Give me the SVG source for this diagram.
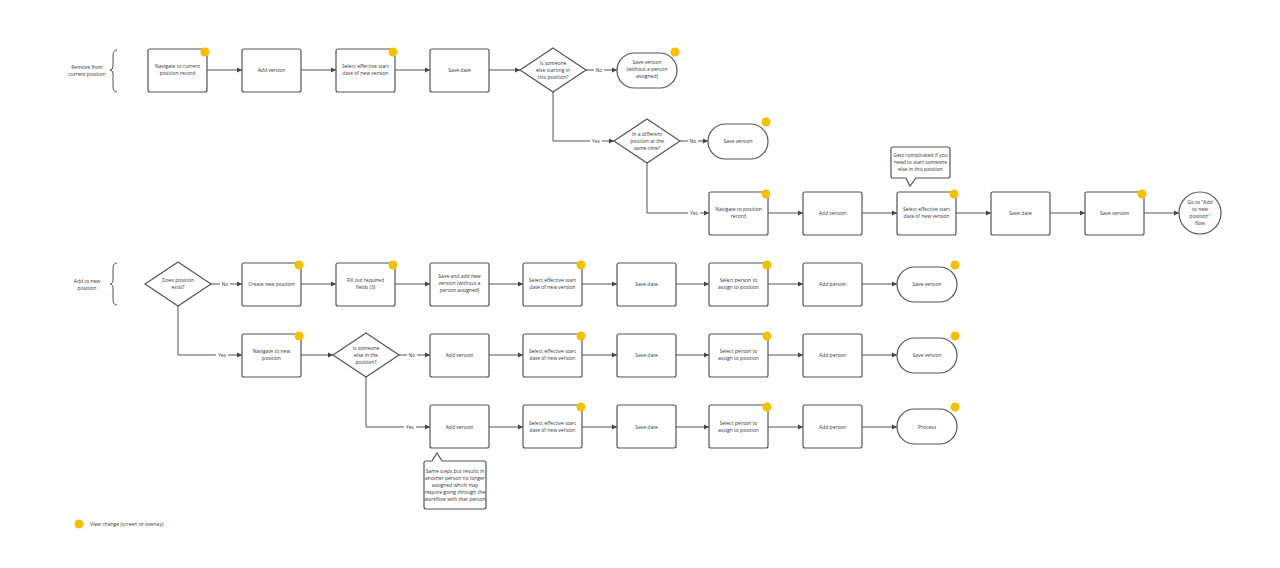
<svg xmlns="http://www.w3.org/2000/svg" width="1280" height="568" viewBox="0 0 1280 568">
<defs>
<marker id="ah" markerWidth="6" markerHeight="6" refX="5" refY="3" orient="auto" markerUnits="userSpaceOnUse"><path d="M0,0.5 L5,3 L0,5.5 Z" fill="#444"/></marker>
<style>
.b{fill:#fff;stroke:#555;stroke-width:1.2}
.t{font-family:"Open Sans","Liberation Sans",sans-serif;font-size:5px;fill:#333;text-anchor:middle}
.l{font-family:"Open Sans","Liberation Sans",sans-serif;font-size:5px;fill:#333;text-anchor:middle}
.c{fill:none;stroke:#555;stroke-width:1;marker-end:url(#ah)}
.p{fill:none;stroke:#555;stroke-width:1}
.d{fill:#F5C000}
.w{fill:#fff}
</style>
</defs>
<rect width="1280" height="568" fill="#fff"/>
<g id="labels">
<text class="t" x="87" y="69">Remove from</text><text class="t" x="87" y="76">current position</text>
<path class="p" d="M117,50 Q113,50 113,56 L113,66 Q113,70 110,70 Q113,70 113,74 L113,86 Q113,92 117,92"/>
<text class="t" x="87" y="283">Add to new</text><text class="t" x="87" y="290">position</text>
<path class="p" d="M117,263 Q113,263 113,269 L113,279 Q113,284 110,284 Q113,284 113,289 L113,299 Q113,305 117,305"/>
</g>
<g id="connectors">
<path class="c" d="M207,70 H242"/><path class="c" d="M301,70 H336"/><path class="c" d="M395,70 H430"/><path class="c" d="M489,70 H520"/>
<path class="c" d="M586,70 H617"/>
<path class="c" d="M553,92 V141 H614"/>
<path class="c" d="M680,141 H708"/>
<path class="c" d="M647,163 V213 H709"/>
<path class="c" d="M768,213 H803"/><path class="c" d="M862,213 H897"/><path class="c" d="M956,213 H991"/><path class="c" d="M1050,213 H1085"/><path class="c" d="M1144,213 H1179"/>
<path class="c" d="M211,284 H242"/><path class="c" d="M301,284 H336"/><path class="c" d="M395,284 H430"/><path class="c" d="M489,284 H523"/><path class="c" d="M582,284 H617"/><path class="c" d="M676,284 H709"/><path class="c" d="M768,284 H803"/><path class="c" d="M862,284 H897"/>
<path class="c" d="M178,306 V355 H242"/>
<path class="c" d="M301,355 H333"/><path class="c" d="M399,355 H430"/><path class="c" d="M489,355 H523"/><path class="c" d="M582,355 H617"/><path class="c" d="M676,355 H709"/><path class="c" d="M768,355 H803"/><path class="c" d="M862,355 H897"/>
<path class="c" d="M366,377 V427 H430"/>
<path class="c" d="M489,427 H523"/><path class="c" d="M582,427 H617"/><path class="c" d="M676,427 H709"/><path class="c" d="M768,427 H803"/><path class="c" d="M862,427 H897"/>
<rect class="w" x="594" y="67" width="10" height="6"/><text class="l" x="599" y="72">No</text>
<rect class="w" x="590" y="138" width="12" height="6"/><text class="l" x="596" y="143">Yes</text>
<rect class="w" x="688" y="138" width="10" height="6"/><text class="l" x="693" y="143">No</text>
<rect class="w" x="688" y="210" width="12" height="6"/><text class="l" x="694" y="215">Yes</text>
<rect class="w" x="220" y="281" width="10" height="6"/><text class="l" x="225" y="286">No</text>
<rect class="w" x="216" y="352" width="12" height="6"/><text class="l" x="222" y="357">Yes</text>
<rect class="w" x="407" y="352" width="10" height="6"/><text class="l" x="412" y="357">No</text>
<rect class="w" x="404" y="424" width="12" height="6"/><text class="l" x="410" y="429">Yes</text>
</g>
<g id="n1"><rect class="b" x="148" y="49" width="59" height="43" rx="2"/><text class="t" x="177.5" y="68">Navigate to current</text><text class="t" x="177.5" y="75">position record</text></g>
<g id="n2"><rect class="b" x="242" y="49" width="59" height="43" rx="2"/><text class="t" x="271.5" y="72">Add version</text></g>
<g id="n3"><rect class="b" x="336" y="49" width="59" height="43" rx="2"/><text class="t" x="365.5" y="68">Select effective start</text><text class="t" x="365.5" y="75">date of new version</text></g>
<g id="n4"><rect class="b" x="430" y="49" width="59" height="43" rx="2"/><text class="t" x="459.5" y="72">Save date</text></g>
<g id="n5"><path class="b" d="M553,48 L586,70 L553,92 L520,70 Z"/><text class="t" x="553" y="65">Is someone</text><text class="t" x="553" y="72">else starting in</text><text class="t" x="553" y="79">this position?</text></g>
<g id="n6"><rect class="b" x="617" y="53" width="60" height="35" rx="17.5"/><text class="t" x="647" y="64">Save version</text><text class="t" x="647" y="71">(without a person</text><text class="t" x="647" y="78">assigned)</text></g>
<g id="n7"><path class="b" d="M647,119 L680,141 L647,163 L614,141 Z"/><text class="t" x="647" y="136">In a different</text><text class="t" x="647" y="143">position at the</text><text class="t" x="647" y="150">same time?</text></g>
<g id="n8"><rect class="b" x="708" y="124" width="60" height="35" rx="17.5"/><text class="t" x="738" y="143">Save version</text></g>
<g id="n9"><rect class="b" x="709" y="192" width="59" height="43" rx="2"/><text class="t" x="738.5" y="211">Navigate to position</text><text class="t" x="738.5" y="218">record</text></g>
<g id="n10"><rect class="b" x="803" y="192" width="59" height="43" rx="2"/><text class="t" x="832.5" y="215">Add version</text></g>
<g id="n11"><rect class="b" x="897" y="192" width="59" height="43" rx="2"/><text class="t" x="926.5" y="211">Select effective start</text><text class="t" x="926.5" y="218">date of new version</text></g>
<g id="n12"><rect class="b" x="991" y="192" width="59" height="43" rx="2"/><text class="t" x="1020.5" y="215">Save date</text></g>
<g id="n13"><rect class="b" x="1085" y="192" width="59" height="43" rx="2"/><text class="t" x="1114.5" y="215">Save version</text></g>
<g id="n14"><circle class="b" cx="1200" cy="213" r="21"/><text class="t" x="1200" y="204">Go to "Add</text><text class="t" x="1200" y="211">to new</text><text class="t" x="1200" y="218">position"</text><text class="t" x="1200" y="225">flow</text></g>
<g id="note1"><path class="b" d="M893,147 H948 Q950,147 950,149 V176 Q950,178 948,178 H916 L910,186 L906,178 H893 Q891,178 891,176 V149 Q891,147 893,147 Z"/><text class="t" x="920.5" y="157">Gets complicated if you</text><text class="t" x="920.5" y="164">need to start someone</text><text class="t" x="920.5" y="171">else in this position</text></g>
<g id="n20"><path class="b" d="M178,262 L211,284 L178,306 L145,284 Z"/><text class="t" x="178" y="282">Does position</text><text class="t" x="178" y="289">exist?</text></g>
<g id="n21"><rect class="b" x="242" y="263" width="59" height="43" rx="2"/><text class="t" x="271.5" y="286">Create new position</text></g>
<g id="n22"><rect class="b" x="336" y="263" width="59" height="43" rx="2"/><text class="t" x="365.5" y="282">Fill out required</text><text class="t" x="365.5" y="289">fields (3)</text></g>
<g id="n23"><rect class="b" x="430" y="263" width="59" height="43" rx="2"/><text class="t" x="459.5" y="278">Save and add new</text><text class="t" x="459.5" y="285">version (without a</text><text class="t" x="459.5" y="292">person assigned)</text></g>
<g id="n24"><rect class="b" x="523" y="263" width="59" height="43" rx="2"/><text class="t" x="552.5" y="282">Select effective start</text><text class="t" x="552.5" y="289">date of new version</text></g>
<g id="n25"><rect class="b" x="617" y="263" width="59" height="43" rx="2"/><text class="t" x="646.5" y="286">Save date</text></g>
<g id="n26"><rect class="b" x="709" y="263" width="59" height="43" rx="2"/><text class="t" x="738.5" y="282">Select person to</text><text class="t" x="738.5" y="289">assign to position</text></g>
<g id="n27"><rect class="b" x="803" y="263" width="59" height="43" rx="2"/><text class="t" x="832.5" y="286">Add person</text></g>
<g id="n28"><rect class="b" x="897" y="267" width="60" height="35" rx="17.5"/><text class="t" x="927" y="286">Save version</text></g>
<g id="n30"><rect class="b" x="242" y="334" width="59" height="43" rx="2"/><text class="t" x="271.5" y="353">Navigate to new</text><text class="t" x="271.5" y="360">position</text></g>
<g id="n31"><path class="b" d="M366,333 L399,355 L366,377 L333,355 Z"/><text class="t" x="366" y="350">Is someone</text><text class="t" x="366" y="357">else in the</text><text class="t" x="366" y="364">position?</text></g>
<g id="n32"><rect class="b" x="430" y="334" width="59" height="43" rx="2"/><text class="t" x="459.5" y="357">Add version</text></g>
<g id="n33"><rect class="b" x="523" y="334" width="59" height="43" rx="2"/><text class="t" x="552.5" y="353">Select effective start</text><text class="t" x="552.5" y="360">date of new version</text></g>
<g id="n34"><rect class="b" x="617" y="334" width="59" height="43" rx="2"/><text class="t" x="646.5" y="357">Save date</text></g>
<g id="n35"><rect class="b" x="709" y="334" width="59" height="43" rx="2"/><text class="t" x="738.5" y="353">Select person to</text><text class="t" x="738.5" y="360">assign to position</text></g>
<g id="n36"><rect class="b" x="803" y="334" width="59" height="43" rx="2"/><text class="t" x="832.5" y="357">Add person</text></g>
<g id="n37"><rect class="b" x="897" y="338" width="60" height="35" rx="17.5"/><text class="t" x="927" y="357">Save version</text></g>
<g id="n40"><rect class="b" x="430" y="405" width="59" height="43" rx="2"/><text class="t" x="459.5" y="429">Add version</text></g>
<g id="n41"><rect class="b" x="523" y="405" width="59" height="43" rx="2"/><text class="t" x="552.5" y="425">Select effective start</text><text class="t" x="552.5" y="432">date of new version</text></g>
<g id="n42"><rect class="b" x="617" y="405" width="59" height="43" rx="2"/><text class="t" x="646.5" y="429">Save date</text></g>
<g id="n43"><rect class="b" x="709" y="405" width="59" height="43" rx="2"/><text class="t" x="738.5" y="425">Select person to</text><text class="t" x="738.5" y="432">assign to position</text></g>
<g id="n44"><rect class="b" x="803" y="405" width="59" height="43" rx="2"/><text class="t" x="832.5" y="429">Add person</text></g>
<g id="n45"><rect class="b" x="897" y="409" width="60" height="35" rx="17.5"/><text class="t" x="927" y="429">Process</text></g>
<g id="note2"><path class="b" d="M426,461 H432 L437,453 L442,461 H484 Q486,461 486,463 V507 Q486,509 484,509 H426 Q424,509 424,507 V463 Q424,461 426,461 Z"/><text class="t" x="455" y="473">Same steps but results in</text><text class="t" x="455" y="480">another person no longer</text><text class="t" x="455" y="487">assigned which may</text><text class="t" x="455" y="494">require going through the</text><text class="t" x="455" y="501">workflow with that person</text></g>
<g id="dots">
<circle class="d" cx="205" cy="52" r="4.5"/><circle class="d" cx="393" cy="52" r="4.5"/><circle class="d" cx="675" cy="52" r="4.5"/><circle class="d" cx="766" cy="122" r="4.5"/>
<circle class="d" cx="766" cy="194" r="4.5"/><circle class="d" cx="954" cy="194" r="4.5"/><circle class="d" cx="1142" cy="194" r="4.5"/>
<circle class="d" cx="299" cy="265" r="4.5"/><circle class="d" cx="393" cy="265" r="4.5"/><circle class="d" cx="581" cy="265" r="4.5"/><circle class="d" cx="767" cy="265" r="4.5"/><circle class="d" cx="955" cy="265" r="4.5"/>
<circle class="d" cx="299" cy="336" r="4.5"/><circle class="d" cx="581" cy="336" r="4.5"/><circle class="d" cx="767" cy="336" r="4.5"/><circle class="d" cx="955" cy="336" r="4.5"/>
<circle class="d" cx="581" cy="407" r="4.5"/><circle class="d" cx="767" cy="407" r="4.5"/><circle class="d" cx="955" cy="407" r="4.5"/>
</g>
<g id="legend"><circle class="d" cx="79" cy="524" r="4.5"/><text class="t" x="90" y="526" style="text-anchor:start">View change (screen or overlay)</text></g>
</svg>
